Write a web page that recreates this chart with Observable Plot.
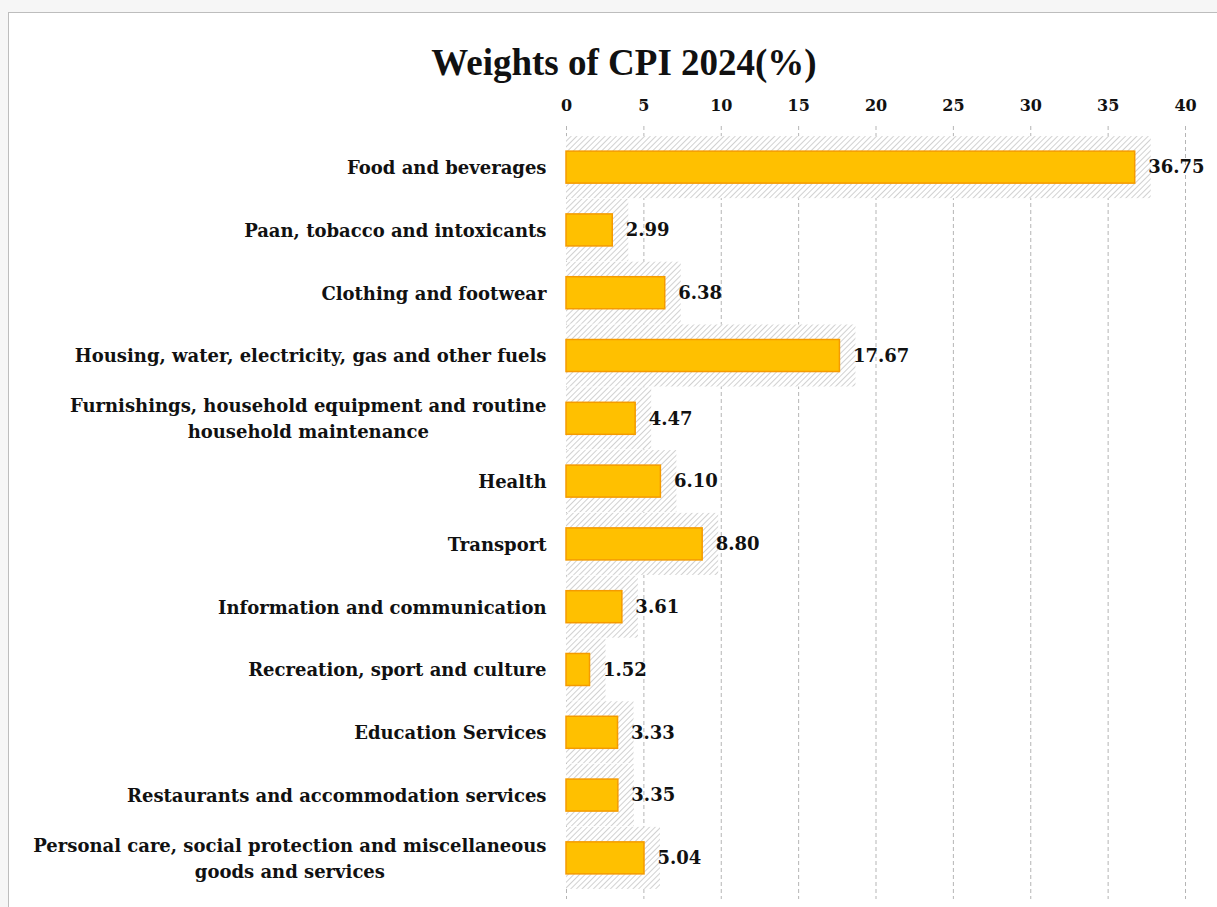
<!DOCTYPE html>
<html>
<head>
<meta charset="utf-8">
<script src="https://cdn.jsdelivr.net/npm/d3@7"></script>
<script src="https://cdn.jsdelivr.net/npm/@observablehq/plot@0.6"></script>
<style>
  html, body { margin: 0; padding: 0; background: #f6f6f6; width: 1217px; height: 907px; overflow: hidden; }
  #frame { position: absolute; left: 8px; top: 12px; width: 1230px; height: 920px; background: #fff; border: 1px solid #bdbdbd; }
  #title { position: absolute; left: 0; top: 41px; width: 1248px; text-align: center; font-family: "Liberation Serif", "DejaVu Serif", serif; font-weight: bold; font-size: 37px; color: #111; }
  #chart { position: absolute; left: 0; top: 90px; }
</style>
</head>
<body>
<div id="frame"></div>
<div id="title">Weights of CPI 2024(%)</div>
<div id="chart"></div>
<script>
const categories = [
  "Food and beverages",
  "Paan, tobacco and intoxicants",
  "Clothing and footwear",
  "Housing, water, electricity, gas and other fuels",
  "Furnishings, household equipment and routine\nhousehold maintenance",
  "Health",
  "Transport",
  "Information and communication",
  "Recreation, sport and culture",
  "Education Services",
  "Restaurants and accommodation services",
  "Personal care, social protection and miscellaneous\ngoods and services"
];
const weights = [36.75, 2.99, 6.38, 17.67, 4.47, 6.10, 8.80, 3.61, 1.52, 3.33, 3.35, 5.04];
const xTicks = [0, 5, 10, 15, 20, 25, 30, 35, 40];

const data = categories.map((c, i) => ({category: c, weight: weights[i]}));
const font = "'DejaVu Serif', 'Liberation Serif', serif";

const chart = Plot.plot({
  width: 1217,
  height: 817,
  marginTop: 36,
  marginBottom: 8,
  marginLeft: 566,
  marginRight: 32,
  style: {fontFamily: font, fontSize: "16px", fontWeight: "bold", color: "#111", background: "transparent"},
  x: {domain: [0, 40], ticks: xTicks, axis: null, label: null},
  y: {domain: categories, paddingInner: 0.49, paddingOuter: 0.4, round: false, axis: null, label: null},
  marks: [
    Plot.ruleX(xTicks, {stroke: "#b5b5b5", strokeWidth: 1, strokeDasharray: "4,3"}),
    Plot.barX(data, {x: "weight", y: "category", fill: "url(#hatch)", insetTop: -15, insetBottom: -15, insetRight: -16}),
    Plot.barX(data, {x: "weight", y: "category", fill: "#FFC000", stroke: "#F59B00", strokeWidth: 1.5}),
    Plot.text(data, {x: "weight", y: "category", text: d => d.weight.toFixed(2), textAnchor: "start", dx: 13, dy: 0, fill: "#111", fontSize: 18, fontWeight: "bold"}),
    Plot.axisX(xTicks, {anchor: "top", label: null, tickSize: 0, tickPadding: 16, fontSize: 16, fontWeight: "bold", fill: "#111", tickFormat: d => String(d)}),
    Plot.axisY({label: null, tickSize: 0, tickPadding: 20, dy: -2, fontSize: 18, fontWeight: "bold", fill: "#111", textAnchor: "end", lineHeight: 1.45})
  ]
});

// hatch pattern definition
const ns = "http://www.w3.org/2000/svg";
const defs = document.createElementNS(ns, "defs");
defs.innerHTML = `<pattern id="hatch" width="4" height="4" patternUnits="userSpaceOnUse" patternTransform="rotate(45)">
  <rect width="4" height="4" fill="#ffffff"/>
  <line x1="0" y1="0" x2="0" y2="4" stroke="#cccccc" stroke-width="1.8"/>
</pattern>`;
chart.insertBefore(defs, chart.firstChild);

document.getElementById("chart").appendChild(chart);

// center-align wrapped y-axis labels (as in the original)
chart.querySelectorAll("g[aria-label='y-axis tick label'] text").forEach(t => {
  const spans = t.querySelectorAll("tspan");
  if (spans.length > 1) {
    const w = t.getBBox().width;
    t.setAttribute("text-anchor", "middle");
    const tr = t.getAttribute("transform") || "";
    t.setAttribute("transform", tr + ` translate(${-w / 2},0)`);
  }
});
</script>
</body>
</html>
